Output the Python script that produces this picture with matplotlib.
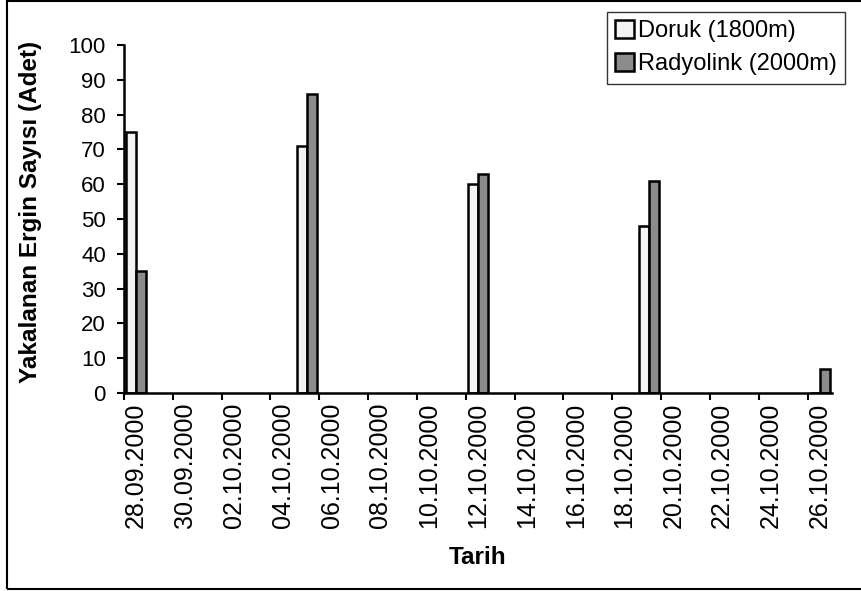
import matplotlib
matplotlib.use("Agg")
import matplotlib.pyplot as plt
from matplotlib.patches import Rectangle
import numpy as np

plt.rcParams['font.family'] = ['Liberation Sans', 'DejaVu Sans']

dates = ["28.09.2000", "29.09.2000", "30.09.2000", "01.10.2000", "02.10.2000",
         "03.10.2000", "04.10.2000", "05.10.2000", "06.10.2000", "07.10.2000",
         "08.10.2000", "09.10.2000", "10.10.2000", "11.10.2000", "12.10.2000",
         "13.10.2000", "14.10.2000", "15.10.2000", "16.10.2000", "17.10.2000",
         "18.10.2000", "19.10.2000", "20.10.2000", "21.10.2000", "22.10.2000",
         "23.10.2000", "24.10.2000", "25.10.2000", "26.10.2000"]
sample_dates = ["28.09.2000", "05.10.2000", "12.10.2000", "19.10.2000", "26.10.2000"]
doruk = [75, 71, 60, 48, 0]
radyolink = [35, 86, 63, 61, 7]

series_names = ["Doruk (1800m)", "Radyolink (2000m)"]
colors = ["#f3f3f3", "#8c8c8c"]

fig = plt.figure(figsize=(8.62, 5.91), dpi=100)
ax = fig.add_axes([124/862, 1-393/591, (832-124)/862, (393-45)/591])

pos = np.array([dates.index(d) for d in sample_dates])
w = 0.4
ax.bar(pos - w/2, doruk, w, color=colors[0], edgecolor='black', linewidth=1.8,
       label=series_names[0])
ax.bar(pos + w/2, radyolink, w, color=colors[1], edgecolor='black', linewidth=1.8,
       label=series_names[1])

ax.set_xlim(-0.5, len(dates) - 0.5)
ax.set_ylim(0, 100)
ax.set_yticks(np.arange(0, 101, 10))
ax.tick_params(axis='y', direction='out', length=5, width=1.5, labelsize=16, pad=8)

label_idx = np.arange(0, len(dates), 2)
ax.set_xticks(label_idx)
ax.set_xticklabels([dates[i] for i in label_idx], rotation=90)
ax.tick_params(axis='x', which='major', length=0, labelsize=18, pad=7)
ax.set_xticks(label_idx - 0.5, minor=True)
ax.tick_params(axis='x', which='minor', direction='out', length=5, width=1.5)

for s in ['top', 'right']:
    ax.spines[s].set_visible(False)
for s in ['left', 'bottom']:
    ax.spines[s].set_linewidth(1.8)

ax.set_ylabel("Yakalanan Ergin Sayısı (Adet)", fontsize=17.5, fontweight='bold')
ax.yaxis.set_label_coords(-0.116, 0.52)
ax.set_xlabel("Tarih", fontsize=17.5, fontweight='bold', va='top')
ax.xaxis.set_label_coords(0.5, -0.44)

leg = fig.legend(loc='upper right', bbox_to_anchor=(845/862, 1-12/591),
                 fontsize=17, frameon=True, fancybox=False, handlelength=0.8,
                 handleheight=0.8, handletextpad=0.15, borderpad=0.35,
                 labelspacing=0.45, borderaxespad=0)
leg.get_frame().set_edgecolor('black')
leg.get_frame().set_linewidth(1.0)

fig.patches.append(Rectangle((7/862, 2/591), 1.0, 1-3/591, transform=fig.transFigure,
                             fill=False, edgecolor='black', linewidth=1.5))

fig.savefig("out.png", dpi=100)
